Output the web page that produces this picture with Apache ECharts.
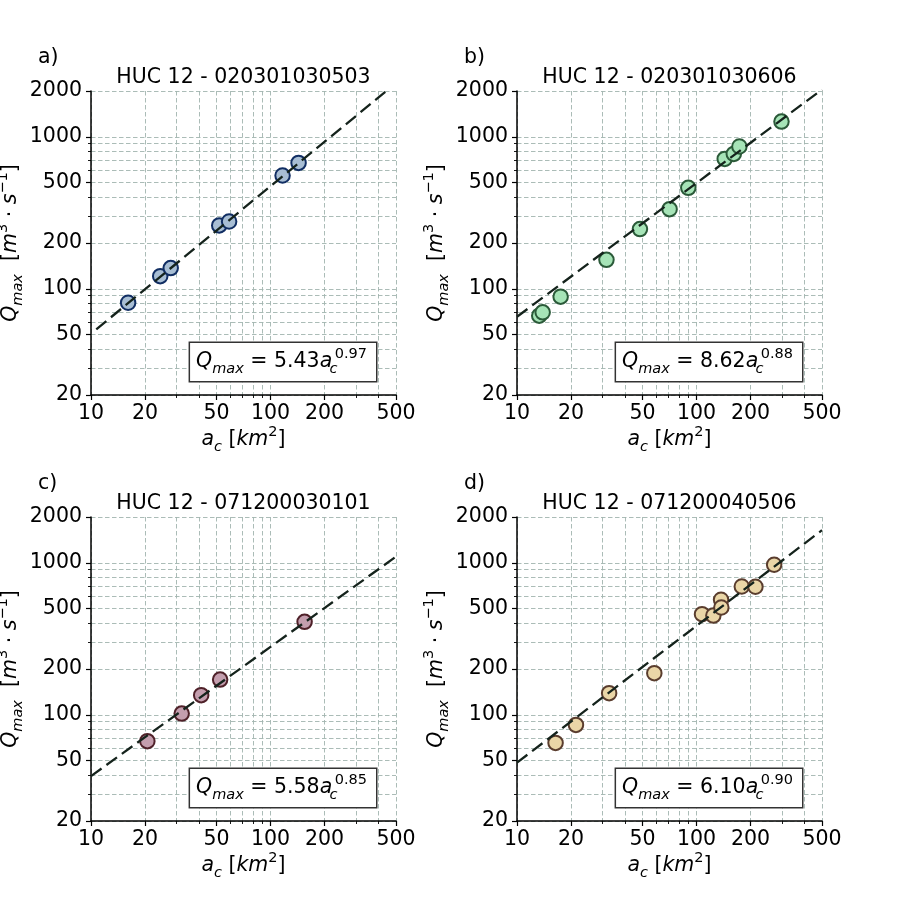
<!DOCTYPE html>
<html>
<head>
<meta charset="utf-8">
<script src="https://cdn.jsdelivr.net/npm/echarts@6/dist/echarts.min.js"></script>
<style>
  html, body { margin: 0; padding: 0; background: #fff; }
  #chart { width: 913px; height: 913px; }
</style>
</head>
<body>
<div id="chart"></div>
<script>
// tick values (log axes)
var xMajor = [10, 20, 50, 100, 200, 500];
var xMinor = [30, 40, 60, 70, 80, 90, 300, 400];
var yMajor = [20, 50, 100, 200, 500, 1000, 2000];
var yMinor = [30, 40, 60, 70, 80, 90, 300, 400, 600, 700, 800, 900];

// a) HUC 12 - 020301030503
var areaA = [16.1, 24.3, 27.8, 51.8, 58.8, 116.7, 143.3];
var flowA = [80.9, 121, 136.8, 261, 277, 556, 673];
var fitA = [[10.7, 54.1], [500, 2254]];

// b) HUC 12 - 020301030606
var areaB = [13.3, 13.9, 17.5, 31.5, 48.4, 70.8, 90.0, 143.6, 161.3, 173.3, 297.3];
var flowB = [66.5, 70.0, 88.7, 155, 247, 334, 461, 715, 771, 863, 1259];
var fitB = [[10, 65.4], [500, 2045]];

// c) HUC 12 - 071200030101
var areaC = [20.6, 32.0, 41.1, 52.4, 154.8];
var flowC = [67.0, 101.8, 134.5, 170.4, 408.8];
var fitC = [[10, 39.5], [500, 1098]];

// d) HUC 12 - 071200040506
var areaD = [16.4, 21.3, 32.6, 58.2, 107.3, 124.1, 137.0, 137.5, 178.7, 212.9, 270.7];
var flowD = [65.3, 85.7, 138.7, 187.8, 459, 449.5, 570.7, 507.7, 698, 695, 970];
var fitD = [[10, 48.4], [500, 1638]];

var letters = ['a)', 'b)', 'c)', 'd)'];
var titles = ['HUC 12 - 020301030503', 'HUC 12 - 020301030606', 'HUC 12 - 071200030101', 'HUC 12 - 071200040506'];
var coefs = ['5.43', '8.62', '5.58', '6.10'];
var expos = ['0.97', '0.88', '0.85', '0.90'];
var fills = ['#a8bed4', '#a6e4b7', '#c49eae', '#ead6a7'];
var edges = ['#112e63', '#2b5a39', '#4f2129', '#5a3d2e'];

var areas = [areaA, areaB, areaC, areaD];
var flows = [flowA, flowB, flowC, flowD];
var fits = [fitA, fitB, fitC, fitD];

var FONT = 'DejaVu Sans';
var FS = 20.5;
var gridPos = [[91, 91], [517, 91], [91, 517], [517, 517]];
var GW = 305, GH = 304;

// mathtext-like pieces: italic letters, upright text, sub- and superscripts
var rich = {
    q: {fontFamily: FONT, fontStyle: 'italic', fontSize: FS, lineHeight: 30, color: '#000'},
    n: {fontFamily: FONT, fontSize: FS, lineHeight: 30, color: '#000'},
    sub: {fontFamily: FONT, fontStyle: 'italic', fontSize: 14.5, lineHeight: 18, verticalAlign: 'bottom', color: '#000'},
    // subscript that takes (almost) no width, so the superscript stacks over it
    subs: {fontFamily: FONT, fontStyle: 'italic', fontSize: 14.5, lineHeight: 18, verticalAlign: 'bottom',
        width: 2.5, align: 'left', color: '#000'},
    sup: {fontFamily: FONT, fontSize: 14.5, lineHeight: 13, verticalAlign: 'top', color: '#000'}
};

var gridLine = {show: true, lineStyle: {color: '#a2b4af', width: 0.9, type: [4.5, 2.5]}};

var grids = [], xAxes = [], yAxes = [], series = [], graphics = [];

function labelFmt(v) {
    return String(Math.round(v));
}

for (var i = 0; i < 4; i++) {
    var gx = gridPos[i][0], gy = gridPos[i][1];
    grids.push({left: gx, top: gy, width: GW, height: GH, containLabel: false, outerBoundsMode: 'none'});

    // major x axis
    xAxes.push({
        type: 'log', logBase: 10, gridIndex: i, min: 10, max: 500, position: 'bottom',
        name: '{q|a}{sub|c}{n| [}{q|km}{sup|2}{n|]}',
        nameLocation: 'middle', nameGap: 30,
        nameTextStyle: {rich: rich},
        axisLine: {show: true, onZero: false, lineStyle: {color: '#000', width: 1.5}},
        axisTick: {show: true, length: 5, customValues: xMajor, lineStyle: {color: '#000', width: 1.2}},
        axisLabel: {show: true, customValues: xMajor, formatter: labelFmt, margin: 8,
            fontFamily: FONT, fontSize: FS, color: '#000'},
        splitLine: gridLine
    });
    // minor x axis
    xAxes.push({
        type: 'log', logBase: 10, gridIndex: i, min: 10, max: 500, position: 'bottom',
        axisLine: {show: false, onZero: false},
        axisTick: {show: true, length: 3, customValues: xMinor, lineStyle: {color: '#000', width: 0.9}},
        axisLabel: {show: false},
        splitLine: gridLine
    });
    // major y axis
    yAxes.push({
        type: 'log', logBase: 10, gridIndex: i, min: 20, max: 2000, position: 'left',
        name: '{q|Q}{sub|max}{n|  [}{q|m}{sup|3}{n| · }{q|s}{sup|−1}{n|]}',
        nameLocation: 'middle', nameGap: 61, nameRotate: 90,
        nameTextStyle: {rich: rich},
        axisLine: {show: true, onZero: false, lineStyle: {color: '#000', width: 1.5}},
        axisTick: {show: true, length: 5, customValues: yMajor, lineStyle: {color: '#000', width: 1.2}},
        axisLabel: {show: true, customValues: yMajor, formatter: labelFmt, margin: 9,
            fontFamily: FONT, fontSize: FS, color: '#000'},
        splitLine: gridLine
    });
    // minor y axis
    yAxes.push({
        type: 'log', logBase: 10, gridIndex: i, min: 20, max: 2000, position: 'left',
        axisLine: {show: false, onZero: false},
        axisTick: {show: true, length: 3, customValues: yMinor, lineStyle: {color: '#000', width: 0.9}},
        axisLabel: {show: false},
        splitLine: gridLine
    });

    var pts = [];
    for (var k = 0; k < areas[i].length; k++) {
        pts.push([areas[i][k], flows[i][k]]);
    }
    series.push({
        type: 'scatter', xAxisIndex: i * 2, yAxisIndex: i * 2, data: pts,
        symbol: 'circle', symbolSize: 14.5, z: 3,
        itemStyle: {color: fills[i], borderColor: edges[i], borderWidth: 2, opacity: 1}
    });
    series.push({
        type: 'line', xAxisIndex: i * 2, yAxisIndex: i * 2, data: fits[i],
        symbol: 'none', clip: true, z: 4, silent: true,
        lineStyle: {color: '#15231c', width: 2.3, type: [13, 6]}
    });

    // panel letter and title
    graphics.push({
        type: 'text', x: gx - 53, y: gy - 33,
        style: {text: letters[i], fontFamily: FONT, fontSize: FS, fill: '#000', align: 'left', verticalAlign: 'middle'}
    });
    graphics.push({
        type: 'text', x: gx + GW / 2, y: gy - 13,
        style: {text: titles[i], fontFamily: FONT, fontSize: FS, fill: '#000', align: 'center', verticalAlign: 'middle'}
    });
    // fit equation box
    graphics.push({
        type: 'text', x: gx + GW - 20, y: gy + GH - 14, z: 10,
        style: {
            text: '{q|Q}{sub|max}{n| = ' + coefs[i] + '}{q|a}{subs|c}{sup|' + expos[i] + '}',
            rich: rich, align: 'right', verticalAlign: 'bottom',
            backgroundColor: '#fff', borderColor: '#333', borderWidth: 1.5,
            padding: [4, 9, 4, 6]
        }
    });
}

var chart = echarts.init(document.getElementById('chart'), null, {renderer: 'canvas'});
chart.setOption({
    backgroundColor: '#fff',
    animation: false,
    grid: grids,
    xAxis: xAxes,
    yAxis: yAxes,
    series: series,
    graphic: graphics
});
</script>
</body>
</html>
